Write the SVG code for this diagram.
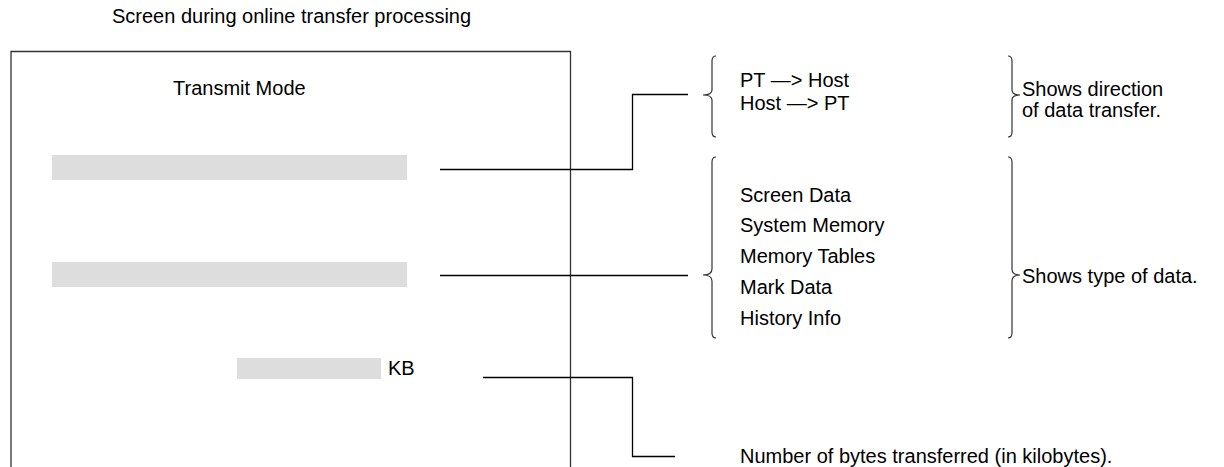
<svg xmlns="http://www.w3.org/2000/svg" width="1224" height="467" viewBox="0 0 1224 467">
<style>
text{font-family:"Liberation Sans",Arial,sans-serif;font-size:20px;fill:#000}
.ln{fill:none;stroke:#000;stroke-width:1.3}
.fr{fill:none;stroke:#333;stroke-width:1.3}
.br{fill:none;stroke:#333;stroke-width:1.2}
.bar{fill:#dddddd}
</style>
<rect width="1224" height="467" fill="#fff"/>
<text x="112" y="23">Screen during online transfer processing</text>
<g id="screen">
<path class="fr" d="M11,467 V51.5 H570.5 V467"/>
<text x="173" y="95">Transmit Mode</text>
<rect class="bar" x="52" y="155" width="355" height="25"/>
<rect class="bar" x="52" y="262" width="355" height="25"/>
<rect class="bar" x="237" y="358" width="144" height="21"/>
<text x="388" y="375">KB</text>
</g>
<g id="connectors">
<path class="ln" d="M440,169.5 H632.5 V94.5 H688"/>
<path class="ln" d="M440,275.5 H688"/>
<path class="ln" d="M483,377.5 H632.5 V456.5 H675"/>
</g>
<g id="direction">
<path class="br" d="M716,56 Q712,56 712,61 V90 Q712,95 703,95 Q712,95 712,100 V132 Q712,137 716,137"/>
<text x="740" y="87">PT —&gt; Host</text>
<text x="740" y="110">Host —&gt; PT</text>
<path class="br" d="M1008,56 Q1012,56 1012,61 V90 Q1012,95 1020,95 Q1012,95 1012,100 V132 Q1012,137 1008,137"/>
<text x="1022" y="96">Shows direction</text>
<text x="1022" y="117">of data transfer.</text>
</g>
<g id="datatype">
<path class="br" d="M716,157 Q712,157 712,162 V269 Q712,275 703,275 Q712,275 712,281 V333 Q712,338 716,338"/>
<text x="740" y="202">Screen Data</text>
<text x="740" y="232">System Memory</text>
<text x="740" y="263">Memory Tables</text>
<text x="740" y="294">Mark Data</text>
<text x="740" y="325">History Info</text>
<path class="br" d="M1008,157 Q1012,157 1012,162 V269 Q1012,275 1020,275 Q1012,275 1012,281 V333 Q1012,338 1008,338"/>
<text x="1022" y="283">Shows type of data.</text>
</g>
<g id="bytes">
<text x="740" y="463">Number of bytes transferred (in kilobytes).</text>
</g>
</svg>
